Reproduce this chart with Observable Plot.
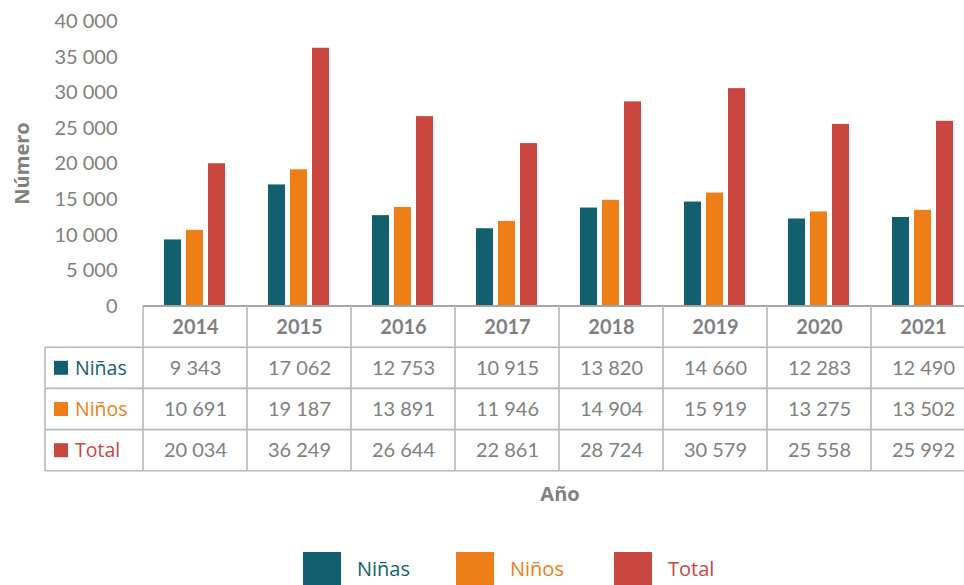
<!DOCTYPE html>
<html>
<head>
<meta charset="utf-8">
<script src="https://cdn.jsdelivr.net/npm/d3@7"></script>
<script src="https://cdn.jsdelivr.net/npm/@observablehq/plot@0.6"></script>
<style>
html, body { margin: 0; padding: 0; background: #fff; overflow: hidden; }
#wrap { position: relative; width: 964px; height: 585px; overflow: hidden; background: #fff; }
#chart { position: absolute; left: 0; top: 0; width: 976px; }
#chart svg { max-width: none !important; }
#xlabel { position: absolute; left: 0; width: 1120px; top: 480px; text-align: center; font: 700 20px "Open Sans", sans-serif; color: #808080; }
#legend { position: absolute; top: 552px; left: 0; width: 964px; height: 40px; font: 20px "Open Sans", sans-serif; }
.lg-sw { position: absolute; top: 0; width: 38px; height: 38px; }
.lg-tx { position: absolute; top: 3px; line-height: 28px; }
</style>
</head>
<body>
<div id="wrap">
  <div id="chart"></div>
  <div id="xlabel">Año</div>
  <div id="legend"></div>
</div>
<script>
// ---- Data ----
const years = ["2014", "2015", "2016", "2017", "2018", "2019", "2020", "2021"];
const ninas = [9343, 17062, 12753, 10915, 13820, 14660, 12283, 12490];
const ninos = [10691, 19187, 13891, 11946, 14904, 15919, 13275, 13502];
const total = [20034, 36249, 26644, 22861, 28724, 30579, 25558, 25992];
const seriesNames = ["Niñas", "Niños", "Total"];
const seriesColors = ["#12606E", "#EE7E17", "#C9473E"];
const yTicks = [0, 5000, 10000, 15000, 20000, 25000, 30000, 35000, 40000];

const seriesValues = [ninas, ninos, total];
const data = years.flatMap((yr, i) => seriesNames.map((s, k) => ({ year: yr, series: s, value: seriesValues[k][i] })));
const fmt = v => d3.format(",")(v).replace(/,/g, " ");

const gray = "#808080";
const gridColor = "#b8b8b8";
const rowH = 41.2;

const tableRowMarks = seriesValues.map((vals, k) =>
  Plot.text(years, {
    fx: d => d,
    text: (d, i) => fmt(vals[i]),
    frameAnchor: "bottom",
    lineAnchor: "middle",
    dy: rowH * 1.5 + rowH * k,
    fill: gray,
    fontSize: 20,
    fontFamily: "Lato, sans-serif"
  })
);

const chart = Plot.plot({
  width: 976,
  height: 474,
  marginTop: 21,
  marginBottom: 168,
  marginLeft: 142,
  marginRight: 0,
  style: { fontFamily: "Lato, sans-serif", fontSize: "20px", color: gray, background: "transparent", overflow: "visible" },
  fx: { domain: years, padding: 0, label: null },
  x: { domain: seriesNames, paddingInner: 0.217, paddingOuter: 0.87, axis: null },
  y: { domain: [0, 40000], label: null },
  color: { domain: seriesNames, range: seriesColors },
  marks: [
    Plot.axisY({ ticks: yTicks, tickFormat: fmt, tickSize: 0, tickPadding: 26, label: null, fill: gray, fontSize: 20 }),
    Plot.axisFx({ anchor: "bottom", tickSize: 0, tickPadding: 13, label: null, fill: gray, fontSize: 20, fontWeight: "bold" }),
    Plot.barY(data, { fx: "year", x: "series", y: "value", fill: "series" }),
    ...tableRowMarks
  ]
});
chart.style.maxWidth = "none";
document.getElementById("chart").appendChild(chart);

// ---- Table grid & row labels, positioned from the plot's scales ----
const svg = d3.select(chart);
const fxS = chart.scale("fx");
const yS = chart.scale("y");
const base = yS.apply(0);
const left = fxS.apply(years[0]);
const right = fxS.apply(years[years.length - 1]) + fxS.bandwidth;
const labelLeft = 45;
const headerBottom = base + rowH;
const tableBottom = headerBottom + rowH * 3;

const g = svg.append("g").attr("stroke", gridColor).attr("stroke-width", 1.6).attr("fill", "none");
g.append("line").attr("x1", left).attr("x2", right).attr("y1", base).attr("y2", base).attr("stroke", "#a6a6a6").attr("stroke-width", 2);
for (let r = 0; r <= 3; r++) {
  const yy = headerBottom + r * rowH;
  g.append("line").attr("x1", labelLeft).attr("x2", right).attr("y1", yy).attr("y2", yy);
}
g.append("line").attr("x1", labelLeft).attr("x2", labelLeft).attr("y1", headerBottom).attr("y2", tableBottom);
years.forEach(yr => {
  const xx = fxS.apply(yr);
  g.append("line").attr("x1", xx).attr("x2", xx).attr("y1", base).attr("y2", tableBottom);
});
g.append("line").attr("x1", right).attr("x2", right).attr("y1", base).attr("y2", tableBottom);

seriesNames.forEach((s, k) => {
  const cy = headerBottom + rowH * k + rowH / 2;
  svg.append("rect").attr("x", 54).attr("y", cy - 7).attr("width", 14).attr("height", 14).attr("fill", seriesColors[k]);
  svg.append("text").attr("x", 75).attr("y", cy).attr("dy", "0.35em").attr("text-anchor", "start")
    .attr("fill", seriesColors[k]).style("font", "19.5px 'Open Sans', sans-serif").text(s);
});

// y-axis title
svg.append("text")
  .attr("transform", `translate(22,${(yS.apply(0) + yS.apply(40000)) / 2}) rotate(-90)`)
  .attr("text-anchor", "middle").attr("dy", "0.35em")
  .attr("fill", gray).style("font", "700 20px 'Open Sans', sans-serif")
  .text("Número");

// ---- Legend ----
const legend = document.getElementById("legend");
const legendX = [303, 456, 614];
seriesNames.forEach((s, k) => {
  const sw = document.createElement("div");
  sw.className = "lg-sw";
  sw.style.left = legendX[k] + "px";
  sw.style.background = seriesColors[k];
  legend.appendChild(sw);
  const tx = document.createElement("div");
  tx.className = "lg-tx";
  tx.style.left = (legendX[k] + 54) + "px";
  tx.style.color = seriesColors[k];
  tx.textContent = s;
  legend.appendChild(tx);
});
</script>
</body>
</html>
